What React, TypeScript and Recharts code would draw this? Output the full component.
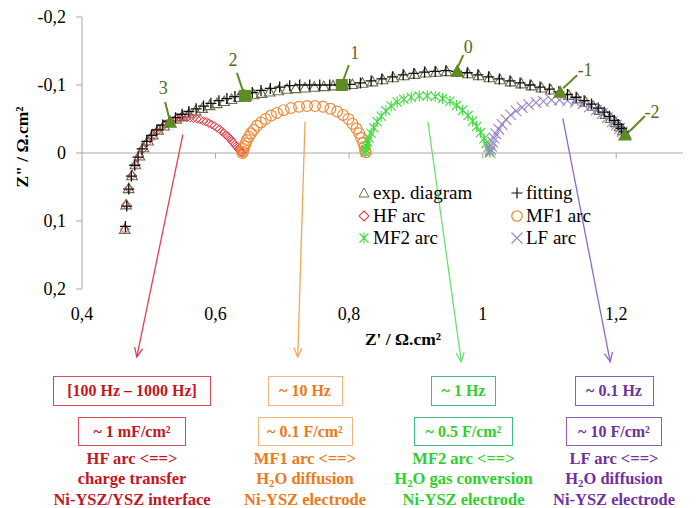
import React from 'react';
import { ScatterChart, Scatter, XAxis, YAxis, ReferenceLine } from 'recharts';

// ---------- axis ticks ----------
const xTicks = [0.4, 0.6, 0.8, 1, 1.2];
const yTicks = [-0.2, -0.1, 0, 0.1, 0.2];
const zeroTickRe = [0.6, 0.8, 1, 1.2];

// ---------- experimental diagram (Z', Z'') ----------
const expRe = [0.464, 0.466, 0.470, 0.475, 0.480, 0.486, 0.492, 0.499, 0.506, 0.514, 0.523, 0.532, 0.541, 0.550, 0.560, 0.570, 0.580, 0.591, 0.602, 0.613, 0.624, 0.635, 0.646, 0.657, 0.669, 0.681, 0.694, 0.707, 0.720, 0.734, 0.748, 0.762, 0.776, 0.790, 0.805, 0.820, 0.835, 0.850, 0.866, 0.882, 0.898, 0.914, 0.930, 0.946, 0.962, 0.978, 0.994, 1.010, 1.026, 1.042, 1.058, 1.073, 1.088, 1.102, 1.116, 1.129, 1.142, 1.154, 1.165, 1.175, 1.184, 1.192, 1.199, 1.205, 1.210, 1.214];
const expIm = [0.112, 0.076, 0.052, 0.033, 0.017, 0.004, -0.008, -0.018, -0.027, -0.034, -0.040, -0.045, -0.050, -0.054, -0.058, -0.062, -0.066, -0.070, -0.073, -0.076, -0.079, -0.082, -0.084, -0.086, -0.088, -0.090, -0.092, -0.094, -0.095, -0.096, -0.097, -0.098, -0.099, -0.100, -0.101, -0.103, -0.105, -0.108, -0.111, -0.114, -0.116, -0.118, -0.119, -0.120, -0.119, -0.117, -0.114, -0.111, -0.108, -0.105, -0.102, -0.099, -0.096, -0.093, -0.089, -0.085, -0.080, -0.075, -0.069, -0.063, -0.057, -0.051, -0.045, -0.039, -0.033, -0.028];

// ---------- fitting ----------
const fitRe = [0.465, 0.467, 0.470, 0.474, 0.479, 0.484, 0.490, 0.497, 0.504, 0.512, 0.521, 0.530, 0.540, 0.550, 0.560, 0.571, 0.582, 0.593, 0.605, 0.617, 0.629, 0.642, 0.655, 0.668, 0.682, 0.696, 0.711, 0.726, 0.741, 0.756, 0.771, 0.786, 0.801, 0.817, 0.833, 0.849, 0.865, 0.881, 0.897, 0.913, 0.929, 0.945, 0.961, 0.977, 0.993, 1.009, 1.025, 1.041, 1.056, 1.071, 1.086, 1.100, 1.114, 1.127, 1.140, 1.152, 1.163, 1.173, 1.182, 1.190, 1.197, 1.203, 1.208, 1.212];
const fitIm = [0.108, 0.078, 0.053, 0.034, 0.018, 0.006, -0.006, -0.017, -0.026, -0.034, -0.041, -0.047, -0.052, -0.057, -0.061, -0.065, -0.069, -0.073, -0.077, -0.080, -0.083, -0.086, -0.089, -0.092, -0.095, -0.097, -0.099, -0.100, -0.100, -0.100, -0.100, -0.100, -0.101, -0.103, -0.106, -0.109, -0.112, -0.115, -0.117, -0.119, -0.120, -0.121, -0.120, -0.118, -0.115, -0.112, -0.109, -0.106, -0.103, -0.100, -0.097, -0.094, -0.090, -0.086, -0.082, -0.077, -0.072, -0.066, -0.060, -0.054, -0.048, -0.042, -0.036, -0.031];

// ---------- HF arc ----------
const hfRe = [0.464, 0.466, 0.470, 0.475, 0.480, 0.486, 0.491, 0.496, 0.502, 0.507, 0.512, 0.517, 0.522, 0.527, 0.532, 0.537, 0.542, 0.547, 0.552, 0.557, 0.562, 0.567, 0.572, 0.577, 0.582, 0.586, 0.590, 0.594, 0.598, 0.602, 0.606, 0.609, 0.612, 0.615, 0.618, 0.620, 0.623, 0.625, 0.627, 0.629, 0.631, 0.633, 0.634, 0.636, 0.637, 0.638, 0.639, 0.640];
const hfIm = [0.112, 0.076, 0.052, 0.033, 0.017, 0.004, -0.006, -0.014, -0.021, -0.027, -0.032, -0.036, -0.040, -0.043, -0.046, -0.048, -0.050, -0.051, -0.052, -0.052, -0.052, -0.051, -0.050, -0.049, -0.047, -0.046, -0.044, -0.042, -0.040, -0.037, -0.035, -0.032, -0.030, -0.027, -0.025, -0.022, -0.020, -0.017, -0.015, -0.012, -0.010, -0.008, -0.006, -0.004, -0.003, -0.002, -0.001, 0.000];

// ---------- MF1 arc ----------
const mf1Re = [0.640, 0.641, 0.642, 0.643, 0.645, 0.647, 0.650, 0.653, 0.657, 0.662, 0.668, 0.675, 0.683, 0.692, 0.702, 0.713, 0.725, 0.737, 0.749, 0.761, 0.772, 0.782, 0.791, 0.799, 0.805, 0.811, 0.815, 0.818, 0.821, 0.823, 0.824, 0.825];
const mf1Im = [0.000, -0.002, -0.006, -0.010, -0.014, -0.019, -0.024, -0.029, -0.034, -0.040, -0.045, -0.050, -0.055, -0.059, -0.063, -0.066, -0.068, -0.069, -0.069, -0.068, -0.065, -0.061, -0.056, -0.050, -0.043, -0.036, -0.029, -0.022, -0.015, -0.009, -0.004, -0.001];

// ---------- MF2 arc ----------
const mf2Re = [0.824, 0.825, 0.826, 0.828, 0.830, 0.833, 0.837, 0.842, 0.848, 0.855, 0.863, 0.872, 0.882, 0.893, 0.905, 0.917, 0.929, 0.940, 0.951, 0.961, 0.970, 0.978, 0.985, 0.991, 0.997, 1.002, 1.005, 1.008, 1.010, 1.011];
const mf2Im = [-0.001, -0.005, -0.010, -0.016, -0.022, -0.029, -0.037, -0.046, -0.054, -0.062, -0.069, -0.075, -0.079, -0.082, -0.084, -0.084, -0.083, -0.080, -0.076, -0.070, -0.063, -0.055, -0.047, -0.039, -0.030, -0.021, -0.014, -0.008, -0.003, -0.001];

// ---------- LF arc ----------
const lfRe = [1.011, 1.012, 1.013, 1.015, 1.017, 1.020, 1.024, 1.029, 1.035, 1.042, 1.050, 1.059, 1.069, 1.080, 1.091, 1.103, 1.115, 1.127, 1.139, 1.150, 1.160, 1.170, 1.179, 1.187, 1.194, 1.200, 1.205, 1.209, 1.212];
const lfIm = [-0.001, -0.005, -0.010, -0.016, -0.022, -0.028, -0.035, -0.042, -0.049, -0.056, -0.062, -0.067, -0.071, -0.074, -0.076, -0.078, -0.078, -0.077, -0.075, -0.072, -0.068, -0.063, -0.058, -0.052, -0.046, -0.041, -0.036, -0.031, -0.027];

// ---------- frequency decade markers (log f) ----------
const decadeLabels = ['3', '2', '1', '0', '-1', '-2'];
const decadeRe = [0.532, 0.644, 0.789, 0.962, 1.116, 1.213];
const decadeIm = [-0.044, -0.084, -0.100, -0.119, -0.088, -0.025];

// ---------- legend ----------
const legendNames = ['exp. diagram', 'fitting', 'HF arc', 'MF1 arc', 'MF2 arc', 'LF arc'];

// ---------- annotations ----------
const freqTexts = ['[100 Hz – 1000 Hz]', '~ 10 Hz', '~ 1 Hz', '~ 0.1 Hz'];
const capTexts = ['~ 1 mF/cm²', '~ 0.1 F/cm²', '~ 0.5 F/cm²', '~ 10 F/cm²'];
const arcTexts = ['HF arc <==>', 'MF1 arc <==>', 'MF2 arc <==>', 'LF arc <==>'];
const processTexts = ['charge transfer', 'H2O diffusion', 'H2O gas conversion', 'H2O diffusion'];
const locationTexts = ['Ni-YSZ/YSZ interface', 'Ni-YSZ electrode', 'Ni-YSZ electrode', 'Ni-YSZ electrode'];
const arrowFromRe = [0.551, 0.734, 0.918, 1.120];
const arrowFromIm = [-0.027, -0.046, -0.046, -0.051];
const arrowToRe = [0.482, 0.723, 0.968, 1.191];
const arrowToIm = [0.300, 0.300, 0.307, 0.307];

// ---------- styles / layout ----------
const EXP_C = '#6a6d4c';
const FIT_C = '#111111';
const HF_C = '#e0404c';
const MF1_C = '#f08a3a';
const MF2_C = '#3edb3e';
const LF_C = '#9a86c6';
const DEC_C = '#5f8c22';
const DEC_TXT = '#4f6a1c';
const AXIS_C = '#a8a8a8';
const SERIF = '"Liberation Serif", "Times New Roman", serif';

const groupText = ['#c4161f', '#f07818', '#2ecf2e', '#7030a0'];
const groupBox = ['#d94c55', '#f6b57c', '#3cbf80', '#8d5fbb'];
const groupArrow = ['#e5404d', '#f5a35c', '#6be06b', '#9567cf'];
const groupCenter = [132, 305, 463.5, 614];
const box1W = [158, 75, 65, 79];
const box2W = [108, 95, 99, 96];
const decShape = ['tri', 'sq', 'sq', 'tri', 'tri', 'tri'];
const decLine = [[-5, -21, -1, -5], [-8, -23, -2, -5], [7, -20, 2, -6], [6, -17, 1, -6], [3, -5, 17, -18], [5, -5, 20, -20]];
const decText = [[-7, -35], [-12, -36], [13, -32], [11, -25], [25, -23], [27, -24]];

const zip = (xs: number[], ys: number[]) => xs.map((x, i) => ({ x, y: ys[i] }));
const fmt = (v: number) => String(v).replace('.', ',');

// ---------- marker shapes ----------
const triPath = (cx: number, cy: number, s: number) => `M${cx},${cy - s}L${cx + s},${cy + s * 0.8}L${cx - s},${cy + s * 0.8}Z`;
const TriShape = (p: any) => <path d={triPath(p.cx, p.cy, 5.3)} fill="none" stroke={EXP_C} strokeWidth={1.1} />;
const PlusShape = (p: any) => (
  <path d={`M${p.cx - 5.5},${p.cy}H${p.cx + 5.5}M${p.cx},${p.cy - 5.5}V${p.cy + 5.5}`} stroke={FIT_C} strokeWidth={1.3} />
);
const DiamondShape = (p: any) => (
  <path d={`M${p.cx},${p.cy - 4.3}L${p.cx + 4.3},${p.cy}L${p.cx},${p.cy + 4.3}L${p.cx - 4.3},${p.cy}Z`} fill="none" stroke={HF_C} strokeWidth={1} />
);
const CircleShape = (p: any) => <circle cx={p.cx} cy={p.cy} r={5.4} fill="none" stroke={MF1_C} strokeWidth={1.2} />;
const StarShape = (p: any) => (
  <path
    d={`M${p.cx},${p.cy - 5.5}V${p.cy + 5.5}M${p.cx - 4.6},${p.cy - 4.6}L${p.cx + 4.6},${p.cy + 4.6}M${p.cx + 4.6},${p.cy - 4.6}L${p.cx - 4.6},${p.cy + 4.6}`}
    stroke={MF2_C}
    strokeWidth={1.1}
  />
);
const XShape = (p: any) => (
  <path d={`M${p.cx - 5.3},${p.cy - 5.3}L${p.cx + 5.3},${p.cy + 5.3}M${p.cx + 5.3},${p.cy - 5.3}L${p.cx - 5.3},${p.cy + 5.3}`} stroke={LF_C} strokeWidth={1.1} />
);

const DecadeShape = (p: any) => {
  const { cx, cy, payload } = p;
  const i = decadeLabels.indexOf(payload.label);
  const l = decLine[i];
  const t = decText[i];
  return (
    <g>
      <line x1={cx + l[0]} y1={cy + l[1]} x2={cx + l[2]} y2={cy + l[3]} stroke={DEC_C} strokeWidth={2} />
      {decShape[i] === 'sq' ? (
        <rect x={cx - 6} y={cy - 6} width={12} height={12} fill={DEC_C} />
      ) : (
        <path d={triPath(cx, cy - 1, 7)} fill={DEC_C} />
      )}
      <text x={cx + t[0]} y={cy + t[1]} textAnchor="middle" dominantBaseline="central" fontFamily={SERIF} fontSize={18} fill={DEC_TXT}>
        {payload.label}
      </text>
    </g>
  );
};

const makeArrow = (color: string) => (p: any) => {
  const { x1, y1, x2, y2 } = p;
  const ang = Math.atan2(y2 - y1, x2 - x1);
  const L = 10;
  const a = 0.42;
  const ax = x2 - L * Math.cos(ang - a);
  const ay = y2 - L * Math.sin(ang - a);
  const bx = x2 - L * Math.cos(ang + a);
  const by = y2 - L * Math.sin(ang + a);
  return (
    <g>
      <line x1={x1} y1={y1} x2={x2} y2={y2} stroke={color} strokeWidth={1.3} />
      <polyline points={`${ax},${ay} ${x2},${y2} ${bx},${by}`} fill="none" stroke={color} strokeWidth={1.3} />
    </g>
  );
};

const legendIcons = [
  <path d={triPath(7, 7, 5)} fill="none" stroke={EXP_C} strokeWidth={1} />,
  <path d="M1.5,7H12.5M7,1.5V12.5" stroke={FIT_C} strokeWidth={1.2} />,
  <path d="M7,2L12,7L7,12L2,7Z" fill="none" stroke={HF_C} strokeWidth={1.1} />,
  <circle cx={7} cy={7} r={5.2} fill="none" stroke={MF1_C} strokeWidth={1.3} />,
  <path d="M7,1.5V12.5M2.5,2.5L11.5,11.5M11.5,2.5L2.5,11.5" stroke={MF2_C} strokeWidth={1.1} />,
  <path d="M1.5,1.5L12.5,12.5M12.5,1.5L1.5,12.5" stroke={LF_C} strokeWidth={1.1} />,
];

const withSub = (s: string) => {
  const parts = s.split('H2O');
  if (parts.length === 1) return s;
  return (
    <>
      {parts[0]}H<sub style={{ fontSize: '0.65em', verticalAlign: '-0.25em' }}>2</sub>O{parts[1]}
    </>
  );
};

export default function App() {
  return (
    <div style={{ position: 'absolute', left: 0, top: 0, width: 697, height: 508, background: '#fff', fontFamily: SERIF }}>
      <ScatterChart width={697} height={508} margin={{ top: 17, right: 14, bottom: 189, left: 0 }}>
        <XAxis
          type="number"
          dataKey="x"
          domain={[0.4, 1.3]}
          ticks={xTicks}
          tickFormatter={fmt}
          axisLine={false}
          tickLine={false}
          tickMargin={12}
          height={30}
          tick={{ fontFamily: SERIF, fontSize: 18, fill: '#000' }}
          allowDataOverflow
        />
        <YAxis
          type="number"
          dataKey="y"
          reversed
          domain={[-0.2, 0.2]}
          ticks={yTicks}
          tickFormatter={fmt}
          width={82}
          axisLine={{ stroke: AXIS_C }}
          tickLine={{ stroke: AXIS_C }}
          tickSize={6}
          tickMargin={10}
          tick={{ fontFamily: SERIF, fontSize: 18, fill: '#000' }}
          allowDataOverflow
        />
        <ReferenceLine y={0} stroke={AXIS_C} strokeWidth={1} />
        {zeroTickRe.map((x) => (
          <ReferenceLine key={'zt' + x} segment={[{ x, y: 0 }, { x, y: 0.008 }]} stroke={AXIS_C} ifOverflow="visible" />
        ))}
        {arrowFromRe.map((_, i) => (
          <ReferenceLine
            key={'ar' + i}
            segment={[
              { x: arrowFromRe[i], y: arrowFromIm[i] },
              { x: arrowToRe[i], y: arrowToIm[i] },
            ]}
            ifOverflow="visible"
            stroke={groupArrow[i]}
            shape={makeArrow(groupArrow[i])}
          />
        ))}
        <Scatter name={legendNames[0]} data={zip(expRe, expIm)} shape={TriShape} isAnimationActive={false} />
        <Scatter name={legendNames[2]} data={zip(hfRe, hfIm)} shape={DiamondShape} isAnimationActive={false} />
        <Scatter name={legendNames[3]} data={zip(mf1Re, mf1Im)} shape={CircleShape} isAnimationActive={false} />
        <Scatter name={legendNames[4]} data={zip(mf2Re, mf2Im)} shape={StarShape} isAnimationActive={false} />
        <Scatter name={legendNames[5]} data={zip(lfRe, lfIm)} shape={XShape} isAnimationActive={false} />
        <Scatter name={legendNames[1]} data={zip(fitRe, fitIm)} shape={PlusShape} isAnimationActive={false} />
        <Scatter
          name="decades"
          data={decadeRe.map((x, i) => ({ x, y: decadeIm[i], label: decadeLabels[i] }))}
          shape={DecadeShape}
          isAnimationActive={false}
        />
      </ScatterChart>

      {/* axis titles */}
      <div
        style={{
          position: 'absolute', left: 22 - 70, top: 147 - 12, width: 140, height: 24, lineHeight: '24px',
          textAlign: 'center', transform: 'rotate(-90deg)', fontWeight: 'bold', fontSize: 17.5, color: '#000',
        }}
      >
        {'Z" / Ω.cm²'}
      </div>
      <div
        style={{
          position: 'absolute', left: 403 - 70, top: 339 - 12, width: 140, height: 24, lineHeight: '24px',
          textAlign: 'center', fontWeight: 'bold', fontSize: 17.5, color: '#000',
        }}
      >
        {"Z' / Ω.cm²"}
      </div>

      {/* legend */}
      {legendNames.map((n, i) => {
        const col = i % 2;
        const row = Math.floor(i / 2);
        const left = col === 0 ? 357 : 510;
        const top = [193, 216, 238][row];
        return (
          <div key={n} style={{ position: 'absolute', left, top: top - 12, height: 24, display: 'flex', alignItems: 'center', fontSize: 19, color: '#000', whiteSpace: 'nowrap' }}>
            <svg width={14} height={14} style={{ marginRight: 2 }}>{legendIcons[i]}</svg>
            <span>{n}</span>
          </div>
        );
      })}

      {/* annotation boxes */}
      {groupCenter.map((c, i) => (
        <React.Fragment key={'g' + i}>
          <div
            style={{
              position: 'absolute', left: c - box1W[i] / 2, top: 376, width: box1W[i], height: 30, boxSizing: 'border-box',
              border: `1.5px solid ${groupBox[i]}`, display: 'flex', alignItems: 'center', justifyContent: 'center',
              fontWeight: 'bold', fontSize: 16, color: groupText[i], whiteSpace: 'nowrap',
            }}
          >
            {freqTexts[i]}
          </div>
          <div
            style={{
              position: 'absolute', left: c - box2W[i] / 2, top: 417, width: box2W[i], height: 29, boxSizing: 'border-box',
              border: `1.5px solid ${groupBox[i]}`, display: 'flex', alignItems: 'center', justifyContent: 'center',
              fontWeight: 'bold', fontSize: 16, color: groupText[i], whiteSpace: 'nowrap',
            }}
          >
            {capTexts[i]}
          </div>
          {[arcTexts[i], processTexts[i], locationTexts[i]].map((t, k) => (
            <div
              key={k}
              style={{
                position: 'absolute', left: c - 100, width: 200, top: [459, 479, 500][k] - 11, height: 22, lineHeight: '22px',
                textAlign: 'center', fontWeight: 'bold', fontSize: 16.5, color: groupText[i], whiteSpace: 'nowrap',
              }}
            >
              {withSub(t)}
            </div>
          ))}
        </React.Fragment>
      ))}
    </div>
  );
}
